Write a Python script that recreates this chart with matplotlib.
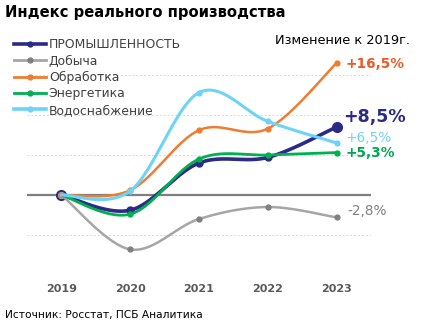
import numpy as np
import matplotlib.pyplot as plt
from matplotlib.lines import Line2D

plt.rcParams['font.family'] = ['DejaVu Sans']

years = ['2019', '2020', '2021', '2022', '2023']
prom = [0, -1.9, 4.0, 4.7, 8.5]
dob = [0, -6.8, -3.0, -1.5, -2.8]
obr = [0, 0.6, 8.1, 8.3, 16.5]
energ = [0, -2.4, 4.5, 5.0, 5.3]
vodo = [0, 0.5, 12.8, 9.2, 6.5]

names = ['ПРОМЫШЛЕННОСТЬ', 'Добыча', 'Обработка', 'Энергетика', 'Водоснабжение']
end_labels = ['+8,5%', '-2,8%', '+16,5%', '+5,3%', '+6,5%']

c_prom = '#2B2A84'
c_dob = '#A6A6A6'
c_obr = '#ED7D31'
c_energ = '#00B050'
c_vodo = '#6DD3F7'


# сглаженная линия как в Excel (безье по соседним точкам)
def smooth(vals, n=40, k=6.0):
    x = np.arange(len(vals), dtype=float)
    y = np.array(vals, dtype=float)
    xs, ys = [], []
    for i in range(len(x) - 1):
        i0 = max(i - 1, 0)
        i3 = min(i + 2, len(x) - 1)
        p0 = np.array([x[i0], y[i0]])
        p1 = np.array([x[i], y[i]])
        p2 = np.array([x[i + 1], y[i + 1]])
        p3 = np.array([x[i3], y[i3]])
        c1 = p1 + (p2 - p0) / k
        c2 = p2 - (p3 - p1) / k
        t = np.linspace(0, 1, n)[:, None]
        b = ((1 - t) ** 3) * p1 + 3 * ((1 - t) ** 2) * t * c1 + 3 * (1 - t) * t ** 2 * c2 + t ** 3 * p2
        xs.extend(b[:, 0])
        ys.extend(b[:, 1])
    return np.array(xs), np.array(ys)


fig = plt.figure(figsize=(4.26, 3.28), dpi=100)
ax = fig.add_axes([27 / 426, 1 - 275 / 328, (371 - 27) / 426, (275 - 35) / 328])

ax.set_xlim(-0.5, 4.5)
ax.set_ylim(-10, 20)
ax.set_yticks([-10, -5, 0, 5, 10, 15])
ax.yaxis.grid(True, color='#D9D9D9', linestyle=(0, (2, 2)), linewidth=0.7)
ax.set_axisbelow(True)
ax.axhline(0, color='#7F7F7F', linewidth=1.6, zorder=1)
for s in ax.spines.values():
    s.set_visible(False)
ax.tick_params(left=False, bottom=False, labelleft=False, length=0)
ax.set_xticks(range(len(years)))
ax.set_xticklabels(years, fontsize=8, fontweight='bold', color='#595959')
ax.tick_params(axis='x', pad=6.5)

xi = np.arange(len(years))

# Промышленность
sx, sy = smooth(prom)
ax.plot(sx, sy, color=c_prom, linewidth=2.6, zorder=3, solid_capstyle='round')
ax.plot(xi[1:4], prom[1:4], 'o', color=c_prom, markersize=5, zorder=3)
ax.plot(xi[4], prom[4], 'o', color=c_prom, markersize=7, zorder=3)
ax.plot(xi[0], prom[0], 'o', markerfacecolor='white', markeredgecolor=c_prom,
        markeredgewidth=1.5, markersize=6.5, zorder=3)

# Добыча
sx, sy = smooth(dob)
ax.plot(sx, sy, color=c_dob, linewidth=1.8, zorder=4)
ax.plot(xi, dob, 'o', color='#808080', markersize=3.5, zorder=4)

# Обработка
sx, sy = smooth(obr)
ax.plot(sx, sy, color=c_obr, linewidth=1.8, zorder=4)
ax.plot(xi, obr, 'o', color=c_obr, markersize=3.5, zorder=4)

# Энергетика
sx, sy = smooth(energ)
ax.plot(sx, sy, color=c_energ, linewidth=2.0, zorder=5)
ax.plot(xi[1:], energ[1:], 'o', color=c_energ, markersize=3.5, zorder=5)

# Водоснабжение
sx, sy = smooth(vodo)
ax.plot(sx, sy, color=c_vodo, linewidth=2.2, zorder=6)
ax.plot(xi[1:], vodo[1:], 'o', color=c_vodo, markersize=3.5, zorder=6)

# подписи справа
lx = 4.13
ax.text(lx, 16.4, end_labels[2], color='#EE5A24', fontsize=9.8, fontweight='bold', va='center')
ax.text(lx - 0.04, 9.75, end_labels[0], color=c_prom, fontsize=12.5, fontweight='bold', va='center')
ax.text(lx, 7.1, end_labels[4], color=c_vodo, fontsize=9.8, va='center')
ax.text(lx, 5.25, end_labels[3], color='#00A651', fontsize=9.8, fontweight='bold', va='center')
ax.text(lx + 0.02, -1.95, end_labels[1], color='#7F7F7F', fontsize=9.8, va='center')

# легенда
handles = [
    Line2D([], [], color=c_prom, linewidth=2.6, marker='o', markersize=3.5),
    Line2D([], [], color=c_dob, linewidth=2.0, marker='o', markersize=3.5, markerfacecolor='#808080', markeredgecolor='#808080'),
    Line2D([], [], color=c_obr, linewidth=2.0, marker='o', markersize=3.5),
    Line2D([], [], color=c_energ, linewidth=2.0, marker='o', markersize=3.5),
    Line2D([], [], color=c_vodo, linewidth=2.6, marker='o', markersize=3.5),
]
fig.legend(handles, names, loc='upper left', bbox_to_anchor=(8 / 426, 1 - 32 / 328),
           frameon=False, fontsize=8.9, handlelength=2.6, handletextpad=0.2,
           labelspacing=0.27, borderpad=0, labelcolor='#404040')

fig.text(5 / 426, 1 - 12 / 328, 'Индекс реального производства', fontsize=10.6,
         fontweight='bold', va='center', ha='left', color='black')
fig.text(410 / 426, 1 - 40 / 328, 'Изменение к 2019г.', fontsize=9.3,
         va='center', ha='right', color='black')
fig.text(5 / 426, 1 - 315 / 328, 'Источник: Росстат, ПСБ Аналитика', fontsize=7.7,
         va='center', ha='left', color='black')

fig.savefig('out.png', dpi=100)
